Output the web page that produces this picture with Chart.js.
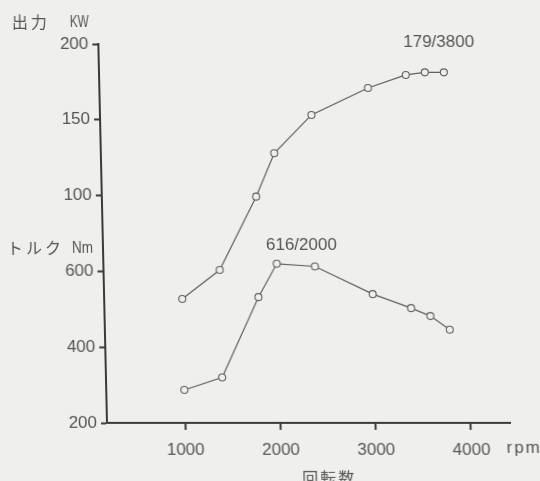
<!DOCTYPE html>
<html>
<head>
<meta charset="utf-8">
<script src="https://cdn.jsdelivr.net/npm/chart.js@4"></script>
<style>
  html, body { margin: 0; padding: 0; background: #efefed; overflow: hidden; }
  /* the scanned page is slightly sheared, the axis leans left towards the top */
  #wrap { width: 540px; height: 481px; transform: skewX(1.31deg); transform-origin: 0 423px; }
</style>
</head>
<body>
<div id="wrap"><canvas id="engineChart" width="540" height="481"></canvas></div>
<script>
// engine curves: output (KW) and torque (Nm) against engine speed
const rpm = [1000, 1400, 1800, 2000, 2400, 3000, 3400, 3600, 3800];
const powerKW = [31.8, 50.9, 99.3, 127.9, 153.2, 171, 179.6, 181.3, 181.3];
const torqueNm = [287, 320, 532, 620, 613, 540, 503, 482, 446];

const xTicks = [1000, 2000, 3000, 4000];
const yTicks = [200, 400, 600, 800, 1000, 1200];           // torque axis positions
const yTickLabels = ['200', '400', '600', '100', '150', '200']; // lower half Nm, upper half KW

const ink = '#555';
const lineInk = '#606060';
const paper = '#efefed';

const labelsPlugin = {
    id: 'labels',
    afterDraw(chart) {
        const ctx = chart.ctx;
        ctx.save();
        ctx.fillStyle = ink;
        ctx.textBaseline = 'middle';
        ctx.textAlign = 'left';

        ctx.font = '16px "Noto Sans CJK JP"';
        ctx.letterSpacing = '3px';
        ctx.fillText('出力', 21, 22);
        ctx.fillText('トルク', 11, 248);
        ctx.letterSpacing = '2px';
        ctx.fillText('回転数', 301, 478);
        ctx.letterSpacing = '0px';

        ctx.font = '17px "Liberation Sans"';
        ctx.fillText('KW', 79, 22, 19);
        ctx.fillText('Nm', 76, 248, 21);
        ctx.fillText('179/3800', 412, 42);
        ctx.fillText('616/2000', 270, 245);
        ctx.letterSpacing = '2px';
        ctx.fillText('rpm', 506, 448);
        ctx.restore();
    }
};

const ctx = document.getElementById('engineChart').getContext('2d');

new Chart(ctx, {
    type: 'line',
    data: {
        labels: rpm,
        datasets: [
            {
                label: '出力 KW',
                data: rpm.map((r, i) => ({ x: r, y: powerKW[i] })),
                yAxisID: 'yPower'
            },
            {
                label: 'トルク Nm',
                data: rpm.map((r, i) => ({ x: r, y: torqueNm[i] })),
                yAxisID: 'y'
            }
        ]
    },
    options: {
        responsive: false,
        animation: false,
        layout: { padding: { left: 0, right: 30, top: 44, bottom: 0 } },
        elements: {
            line: { borderColor: lineInk, borderWidth: 1.2, tension: 0 },
            point: { radius: 3.5, borderWidth: 1.1, borderColor: lineInk, backgroundColor: paper, pointStyle: 'circle' }
        },
        plugins: { legend: { display: false }, tooltip: { enabled: false } },
        scales: {
            x: {
                type: 'linear',
                min: 180,
                max: 4410,
                afterBuildTicks: s => { s.ticks = xTicks.map(v => ({ value: v })); },
                afterFit: s => { s.height = 58; },
                border: { color: '#3a3a3a', width: 2 },
                grid: { drawOnChartArea: false, tickLength: 7, tickColor: '#3a3a3a', tickWidth: 2 },
                ticks: {
                    color: ink,
                    font: { family: 'Liberation Sans', size: 17 },
                    padding: 10,
                    maxRotation: 0,
                    callback: v => String(v)
                }
            },
            y: {
                min: 200,
                max: 1200,
                afterBuildTicks: s => { s.ticks = yTicks.map(v => ({ value: v })); },
                afterFit: s => { s.width = 107; },
                border: { color: '#3a3a3a', width: 2 },
                grid: { drawOnChartArea: false, tickLength: 6, tickColor: '#3a3a3a', tickWidth: 2 },
                ticks: {
                    color: ink,
                    font: { family: 'Liberation Sans', size: 17 },
                    padding: 4,
                    callback: (v, i) => yTickLabels[i]
                }
            },
            yPower: {
                display: false,
                position: 'left',
                min: -50,
                max: 200
            }
        }
    },
    plugins: [labelsPlugin]
});
</script>
</body>
</html>
